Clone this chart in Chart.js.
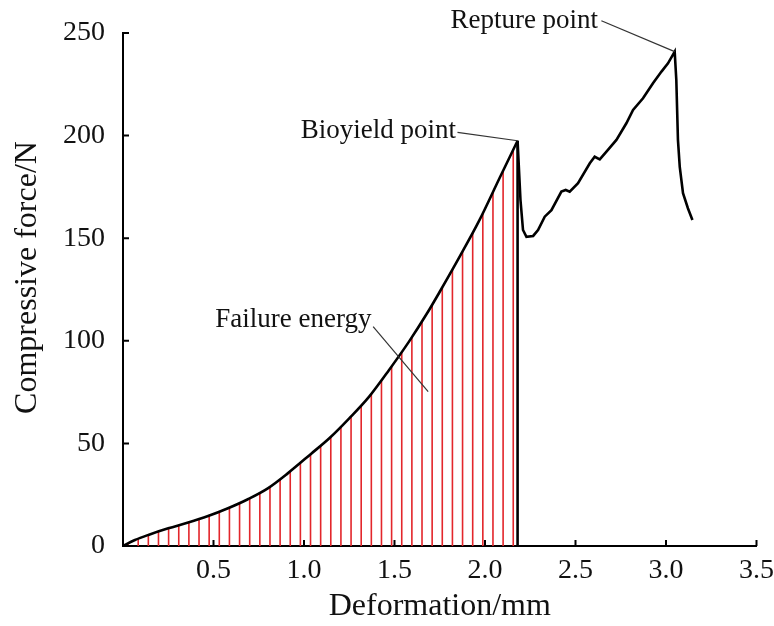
<!DOCTYPE html>
<html>
<head>
<meta charset="utf-8">
<script src="https://cdn.jsdelivr.net/npm/chart.js@4.4.1/dist/chart.umd.min.js"></script>
<style>
  html, body { margin: 0; padding: 0; background: #fff; }
  #wrap { width: 774px; height: 626px; }
</style>
</head>
<body>
<div id="wrap"><canvas id="chart-compression"></canvas></div>
<script>
// loading stage, origin -> bioyield point (deformation mm, force N)
const loadDeformation = [0, 0.066, 0.14, 0.25, 0.36, 0.47, 0.58, 0.69, 0.80, 0.91, 1.04, 1.14, 1.25, 1.36, 1.47, 1.58, 1.68, 1.75, 1.86, 1.97, 2.08, 2.18];
const loadForce = [0, 2.9, 5.4, 8.6, 11.4, 14.6, 18.4, 22.8, 28.1, 35.4, 45.0, 52.5, 62.2, 72.8, 85.8, 99.6, 113.4, 123.9, 141.0, 158.9, 179.2, 197.5];

// after bioyield -> rupture -> end of test
const postDeformation = [2.18, 2.196, 2.21, 2.229, 2.266, 2.293, 2.330, 2.367, 2.422, 2.446, 2.468, 2.514, 2.579, 2.606, 2.634, 2.671, 2.726, 2.781, 2.818, 2.873, 2.928, 2.975, 3.011, 3.048, 3.057, 3.066, 3.076, 3.094, 3.121, 3.146];
const postForce = [197.5, 168.6, 154.0, 150.7, 151.1, 154.0, 160.5, 163.7, 172.7, 173.5, 172.7, 176.8, 186.5, 189.7, 188.4, 192.2, 197.9, 206.0, 212.5, 218.2, 225.5, 231.2, 235.2, 240.9, 227.1, 197.9, 184.8, 171.9, 164.6, 158.9];

const xTickValues = [0, 0.5, 1.0, 1.5, 2.0, 2.5, 3.0, 3.5];
const yTickValues = [0, 50, 100, 150, 200, 250];

// hatching of the failure energy area
const hatchStart = 0.028;
const hatchStep = 0.056;
const hatchEnd = 2.16;
const hatchColor = '#e3262b';

const FONT = '"Liberation Serif", "Times New Roman", serif';

const peakLoad = loadForce.length - 1;
const peakPost = postForce.indexOf(Math.max(...postForce));

const notes = [
    { text: 'Bioyield point', at: [1.84, 199.0], from: [1.848, 201.6], to: [loadDeformation[peakLoad], loadForce[peakLoad]] },
    { text: 'Repture point', at: [2.625, 252.3], from: [2.643, 256.0], to: [postDeformation[peakPost], postForce[peakPost]] },
    { text: 'Failure energy', at: [1.373, 106.9], from: [1.382, 106.9], to: [1.686, 75.2] }
];

function hatchPattern(chart) {
    const xs = chart.scales.x;
    if (!xs || !chart.chartArea) return 'rgba(0,0,0,0)';
    const c = document.createElement('canvas');
    c.width = chart.width;
    c.height = 4;
    const g = c.getContext('2d');
    g.fillStyle = hatchColor;
    for (let v = hatchStart; v <= hatchEnd + 1e-9; v += hatchStep) {
        const px = xs.getPixelForValue(v);
        g.fillRect(px - 0.8, 0, 1.6, 4);
    }
    return g.createPattern(c, 'repeat-y');
}

const innerTicks = {
    id: 'innerTicks',
    afterDatasetsDraw(chart) {
        const ctx = chart.ctx;
        const xs = chart.scales.x, ys = chart.scales.y;
        const area = chart.chartArea;
        ctx.save();
        ctx.strokeStyle = '#000';
        ctx.lineWidth = 2;
        ctx.beginPath();
        xs.ticks.forEach(t => {
            const px = xs.getPixelForValue(t.value);
            ctx.moveTo(px, area.bottom);
            ctx.lineTo(px, area.bottom - 6);
        });
        ys.ticks.forEach(t => {
            const py = ys.getPixelForValue(t.value);
            ctx.moveTo(area.left, py);
            ctx.lineTo(area.left + 6, py);
        });
        ctx.stroke();
        ctx.restore();
    }
};

const callouts = {
    id: 'callouts',
    afterDraw(chart) {
        const ctx = chart.ctx;
        const xs = chart.scales.x, ys = chart.scales.y;
        ctx.save();
        ctx.font = '27px ' + FONT;
        ctx.textAlign = 'right';
        ctx.textBaseline = 'alphabetic';
        ctx.fillStyle = '#111';
        ctx.strokeStyle = '#333';
        ctx.lineWidth = 1.2;
        notes.forEach(n => {
            ctx.fillText(n.text, xs.getPixelForValue(n.at[0]), ys.getPixelForValue(n.at[1]));
            ctx.beginPath();
            ctx.moveTo(xs.getPixelForValue(n.from[0]), ys.getPixelForValue(n.from[1]));
            ctx.lineTo(xs.getPixelForValue(n.to[0]), ys.getPixelForValue(n.to[1]));
            ctx.stroke();
        });
        ctx.restore();
    }
};

const ctxCompression = document.getElementById('chart-compression').getContext('2d');

const chartCompression = new Chart(ctxCompression, {
    type: 'line',
    data: {
        datasets: [
            {
                label: 'Loading',
                data: loadDeformation.map((x, i) => ({ x: x, y: loadForce[i] })),
                borderColor: '#000',
                borderWidth: 2.6,
                cubicInterpolationMode: 'monotone',
                pointRadius: 0,
                fill: 'origin',
                backgroundColor: (c) => hatchPattern(c.chart)
            },
            {
                label: 'Bioyield boundary',
                data: [
                    { x: loadDeformation[peakLoad], y: 0 },
                    { x: loadDeformation[peakLoad], y: loadForce[peakLoad] }
                ],
                borderColor: '#000',
                borderWidth: 2.6,
                pointRadius: 0,
                fill: false
            },
            {
                label: 'Post yield',
                data: postDeformation.map((x, i) => ({ x: x, y: postForce[i] })),
                borderColor: '#000',
                borderWidth: 2.6,
                tension: 0,
                pointRadius: 0,
                fill: false
            }
        ]
    },
    options: {
        responsive: true,
        maintainAspectRatio: false,
        animation: false,
        layout: { padding: { left: 0, right: 0, top: 33, bottom: 0 } },
        plugins: {
            legend: { display: false },
            tooltip: { enabled: false }
        },
        scales: {
            x: {
                type: 'linear',
                min: 0,
                max: 3.5,
                afterBuildTicks: (s) => { s.ticks = xTickValues.map(v => ({ value: v })); },
                afterFit: (s) => { s.height = 80; },
                grid: { display: false },
                border: { display: true, color: '#000', width: 2 },
                ticks: {
                    color: '#111',
                    padding: 0,
                    maxRotation: 0,
                    font: { family: FONT, size: 28 },
                    callback: (v) => v === 0 ? '' : Number(v).toFixed(1)
                },
                title: {
                    display: true,
                    text: 'Deformation/mm',
                    color: '#111',
                    font: { family: FONT, size: 32 },
                    padding: { top: 0, bottom: 0 }
                }
            },
            y: {
                min: 0,
                max: 250,
                afterBuildTicks: (s) => { s.ticks = yTickValues.map(v => ({ value: v })); },
                afterFit: (s) => { s.width = 123; },
                grid: { display: false },
                border: { display: true, color: '#000', width: 2 },
                ticks: {
                    color: '#111',
                    padding: 10,
                    font: { family: FONT, size: 28 }
                },
                title: {
                    display: true,
                    text: '   Compressive force/N',
                    color: '#111',
                    font: { family: FONT, size: 32 },
                    padding: { top: 8, bottom: 0 }
                }
            }
        }
    },
    plugins: [innerTicks, callouts]
});
</script>
</body>
</html>
